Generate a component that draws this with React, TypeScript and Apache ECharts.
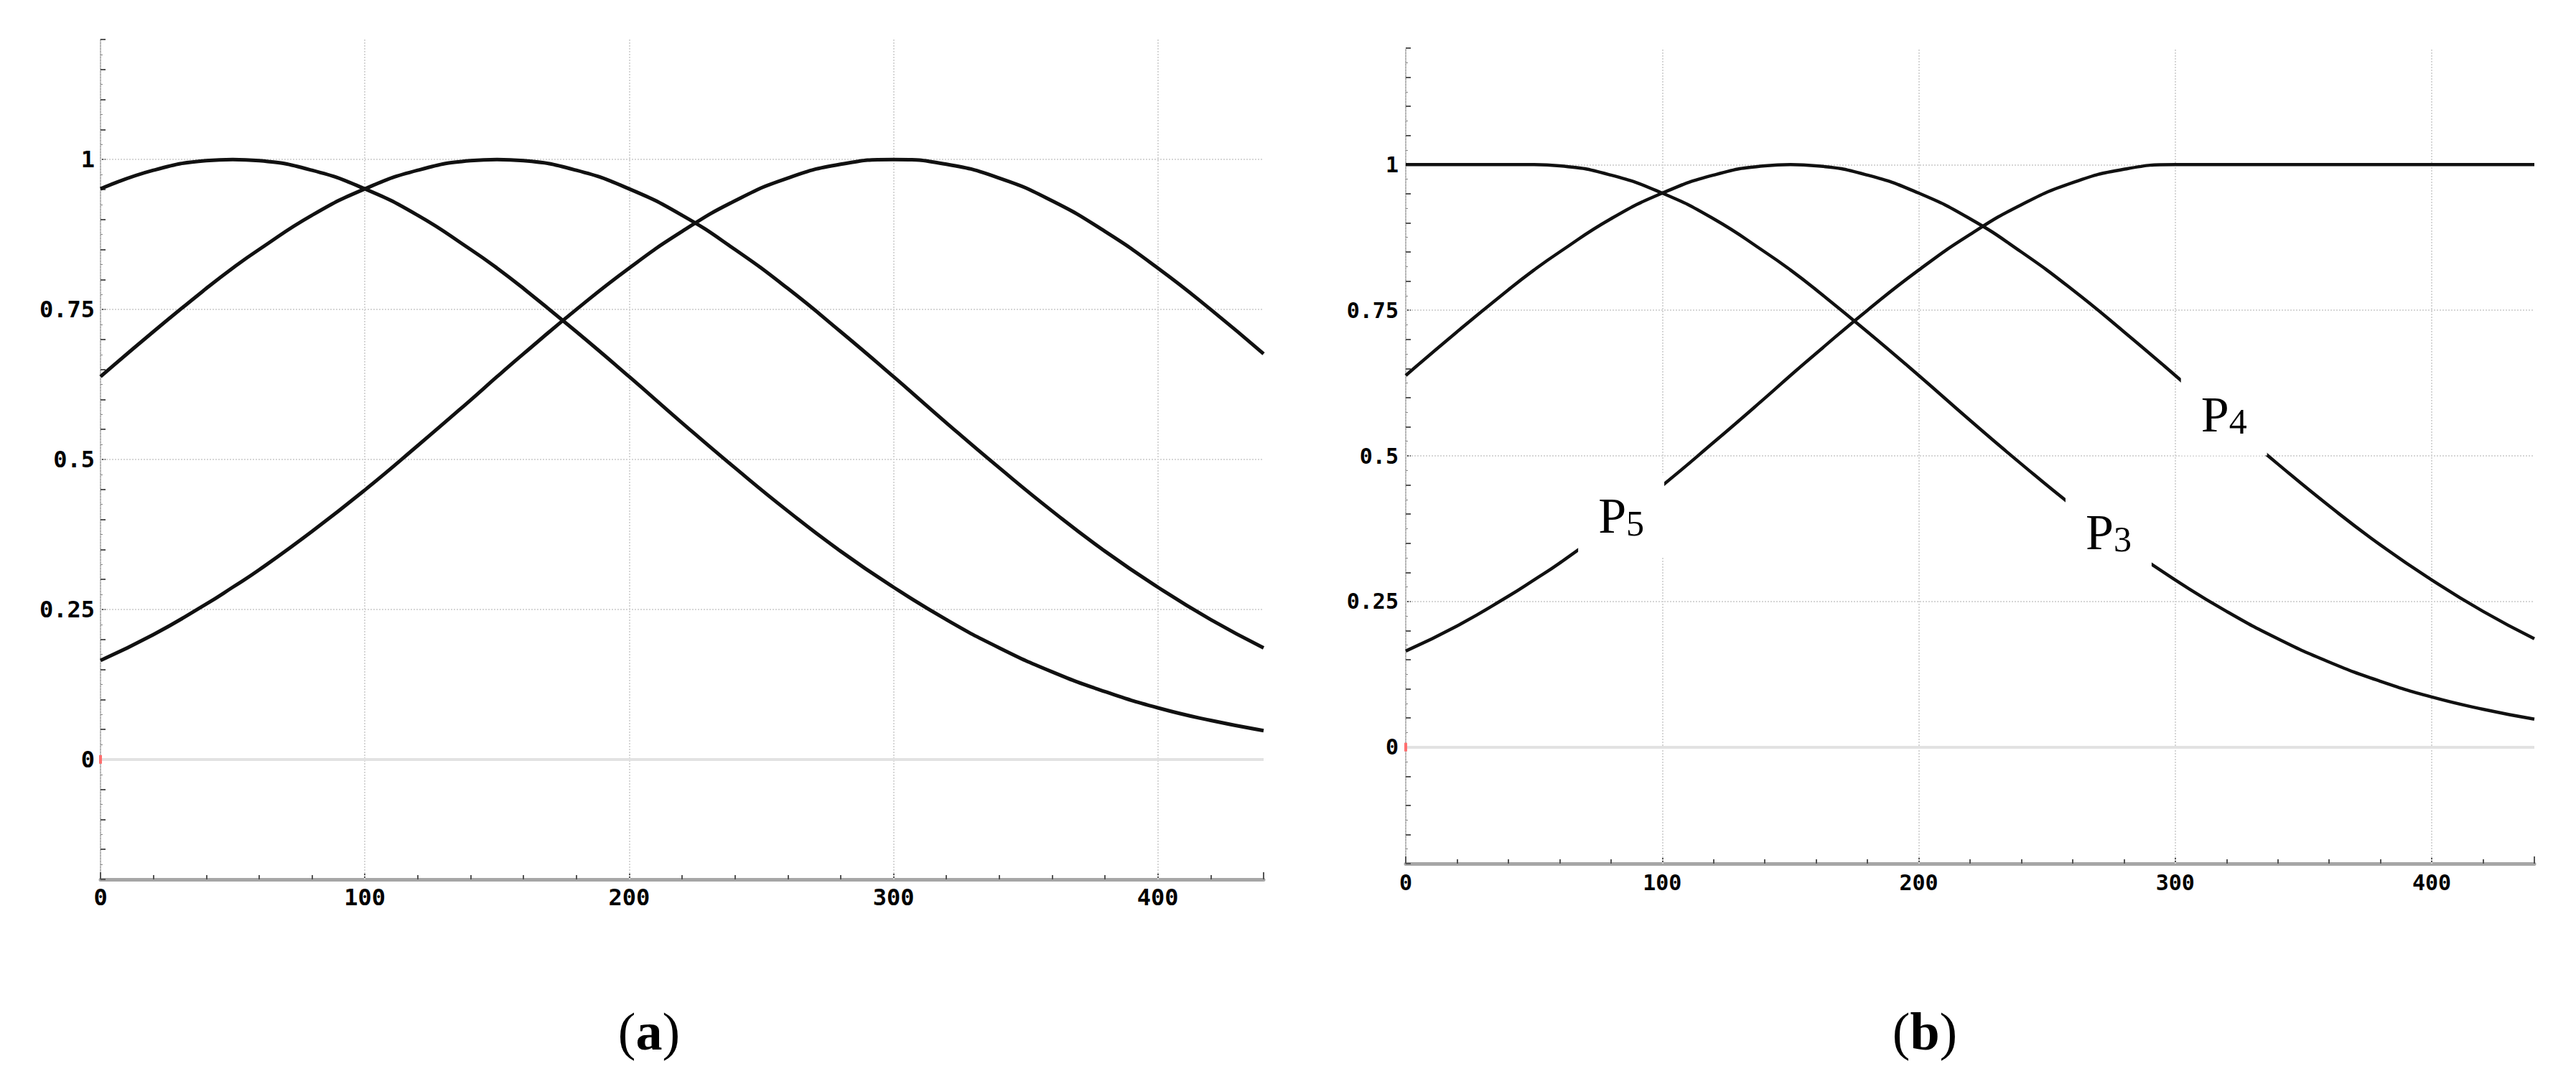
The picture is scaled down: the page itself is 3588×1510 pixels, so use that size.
import React, { useEffect, useRef } from 'react';
import * as echarts from 'echarts';

// sample x positions (shared by every curve)
const xs = [0, 20, 40, 50, 60, 80, 100, 120, 140, 150, 160, 180, 200, 220, 240, 260, 280, 300, 320, 340, 360, 380, 400, 420, 440];

// panel (a)
const curveA = [0.951, 0.982, 0.998, 1.0, 0.998, 0.982, 0.951, 0.907, 0.85, 0.819, 0.785, 0.713, 0.638, 0.561, 0.486, 0.414, 0.347, 0.287, 0.233, 0.186, 0.146, 0.113, 0.086, 0.065, 0.048];
const curveB = [0.638, 0.713, 0.785, 0.819, 0.85, 0.907, 0.951, 0.982, 0.998, 1.0, 0.998, 0.982, 0.951, 0.907, 0.85, 0.785, 0.713, 0.638, 0.561, 0.486, 0.414, 0.347, 0.287, 0.233, 0.186];
const curveC = [0.165, 0.208, 0.259, 0.287, 0.316, 0.38, 0.449, 0.523, 0.599, 0.638, 0.676, 0.75, 0.819, 0.88, 0.931, 0.969, 0.992, 1.0, 0.992, 0.969, 0.931, 0.88, 0.819, 0.75, 0.676];

// panel (b)
const p3 = [1.0, 1.0, 1.0, 1.0, 0.998, 0.982, 0.951, 0.907, 0.85, 0.819, 0.785, 0.713, 0.638, 0.561, 0.486, 0.414, 0.347, 0.287, 0.233, 0.186, 0.146, 0.113, 0.086, 0.065, 0.048];
const p4 = [0.638, 0.713, 0.785, 0.819, 0.85, 0.907, 0.951, 0.982, 0.998, 1.0, 0.998, 0.982, 0.951, 0.907, 0.85, 0.785, 0.713, 0.638, 0.561, 0.486, 0.414, 0.347, 0.287, 0.233, 0.186];
const p5 = [0.165, 0.208, 0.259, 0.287, 0.316, 0.38, 0.449, 0.523, 0.599, 0.638, 0.676, 0.75, 0.819, 0.88, 0.931, 0.969, 0.992, 1.0, 1.0, 1.0, 1.0, 1.0, 1.0, 1.0, 1.0];

// curve labels in panel (b)
const labelNames = ['P5', 'P3', 'P4'];
const labelX = [84, 274, 319];
const labelY = [0.397, 0.369, 0.571];

// axes / grid
const xGridValues = [100, 200, 300, 400];
const yGridValues = [0.25, 0.5, 0.75, 1];
const yLabelValues = [0, 0.25, 0.5, 0.75, 1];
const captions = ['a', 'b'];

const pair = (ys: number[]) => xs.map((x, i) => [x, ys[i]]);

const monoFont = "'DejaVu Sans Mono', 'Liberation Mono', monospace";
const serifFont = "'Liberation Serif', 'DejaVu Serif', serif";

function makeXAxis(gridIndex: number, fontSize: number, margin: number) {
  return {
    type: 'value',
    gridIndex,
    min: 0,
    max: 440,
    interval: 100,
    axisLine: { show: true, onZero: false, lineStyle: { color: '#a6a6a6', width: 5 } },
    axisTick: { show: true, inside: true, length: 10, lineStyle: { color: '#555', width: 2 } },
    minorTick: { show: true, splitNumber: 5, length: 6, lineStyle: { color: '#555', width: 2 } },
    axisLabel: {
      show: true,
      showMaxLabel: false,
      fontFamily: monoFont,
      fontWeight: 'bold',
      fontSize,
      color: '#000',
      margin,
    },
    splitLine: { show: false },
    minorSplitLine: { show: false },
  };
}

function makeYAxis(gridIndex: number, fontSize: number, margin: number) {
  return {
    type: 'value',
    gridIndex,
    min: -0.2,
    max: 1.2,
    interval: 0.05,
    axisLine: { show: true, onZero: false, lineStyle: { color: '#b4b4b4', width: 2, type: 'dotted' } },
    axisTick: { show: true, inside: true, length: 7, lineStyle: { color: '#555', width: 2 } },
    minorTick: { show: true, splitNumber: 2, length: 3, lineStyle: { color: '#888', width: 1 } },
    axisLabel: {
      show: true,
      fontFamily: monoFont,
      fontWeight: 'bold',
      fontSize,
      color: '#000',
      margin,
      formatter: (v: number) => {
        const hit = yLabelValues.find((t) => Math.abs(t - v) < 1e-6);
        return hit === undefined ? '' : String(hit);
      },
    },
    splitLine: { show: false },
  };
}

function gridSeries(axisIndex: number) {
  const lines: any[] = [];
  xGridValues.forEach((v) => lines.push({ xAxis: v }));
  yGridValues.forEach((v) => lines.push({ yAxis: v }));
  lines.push({ yAxis: 0, lineStyle: { type: 'solid', color: '#e2e2e2', width: 4 } });
  return {
    type: 'scatter',
    xAxisIndex: axisIndex,
    yAxisIndex: axisIndex,
    z: 4,
    silent: true,
    symbol: 'rect',
    symbolSize: [4, 12],
    itemStyle: { color: '#ff6f6f', opacity: 1 },
    data: [[0, 0]],
    markLine: {
      z: 1,
      silent: true,
      symbol: ['none', 'none'],
      label: { show: false },
      lineStyle: { type: 'dotted', color: '#d6d6d6', width: 2 },
      emphasis: { disabled: true },
      data: lines,
    },
  };
}

function curveSeries(axisIndex: number, ys: number[], width: number) {
  return {
    type: 'line',
    xAxisIndex: axisIndex,
    yAxisIndex: axisIndex,
    z: 3,
    silent: true,
    smooth: 0.5,
    symbol: 'none',
    showSymbol: false,
    lineStyle: { color: '#111111', width },
    emphasis: { disabled: true },
    data: pair(ys),
  };
}

export default function App() {
  const ref = useRef<HTMLDivElement>(null);

  useEffect(() => {
    if (!ref.current) return;
    const chart = echarts.init(ref.current, undefined, { renderer: 'svg' });

    const option: any = {
      animation: false,
      backgroundColor: '#ffffff',
      grid: [
        { left: 140, top: 55, width: 1620, height: 1170 },
        { left: 1958, top: 67, width: 1572, height: 1136 },
      ],
      xAxis: [makeXAxis(0, 32, 9), makeXAxis(1, 30, 11)],
      yAxis: [makeYAxis(0, 32, 8), makeYAxis(1, 30, 10)],
      series: [
        gridSeries(0),
        curveSeries(0, curveA, 5),
        curveSeries(0, curveB, 5),
        curveSeries(0, curveC, 5),
        gridSeries(1),
        curveSeries(1, p3, 4.5),
        curveSeries(1, p4, 4.5),
        curveSeries(1, p5, 4.5),
        {
          type: 'scatter',
          xAxisIndex: 1,
          yAxisIndex: 1,
          z: 10,
          silent: true,
          symbolSize: 2,
          itemStyle: { color: 'rgba(0,0,0,0)', opacity: 1 },
          data: labelNames.map((n, i) => ({ name: n, value: [labelX[i], labelY[i]] })),
          label: {
            show: true,
            position: 'inside',
            opacity: 1,
            backgroundColor: '#ffffff',
            padding: [22, 28],
            formatter: (p: any) => `{p|${p.name.slice(0, 1)}}{n|${p.name.slice(1)}}`,
            rich: {
              p: { fontFamily: serifFont, fontSize: 70, lineHeight: 70, color: '#000', verticalAlign: 'bottom' },
              n: { fontFamily: serifFont, fontSize: 50, lineHeight: 57, color: '#000', verticalAlign: 'bottom' },
            },
          },
        },
      ],
      graphic: captions.map((c, i) => ({
        type: 'text',
        x: i === 0 ? 904 : 2681,
        y: 1437,
        silent: true,
        style: {
          text: `{n|(}{b|${c}}{n|)}`,
          align: 'center',
          verticalAlign: 'middle',
          rich: {
            n: { fontFamily: serifFont, fontSize: 74, fill: '#000', color: '#000' },
            b: { fontFamily: serifFont, fontSize: 74, fontWeight: 'bold', fill: '#000', color: '#000' },
          },
        },
      })),
    };

    chart.setOption(option);
    return () => chart.dispose();
  }, []);

  return (
    <div
      ref={ref}
      style={{ position: 'absolute', left: 0, top: 0, width: '3588px', height: '1510px', background: '#fff' }}
    />
  );
}
